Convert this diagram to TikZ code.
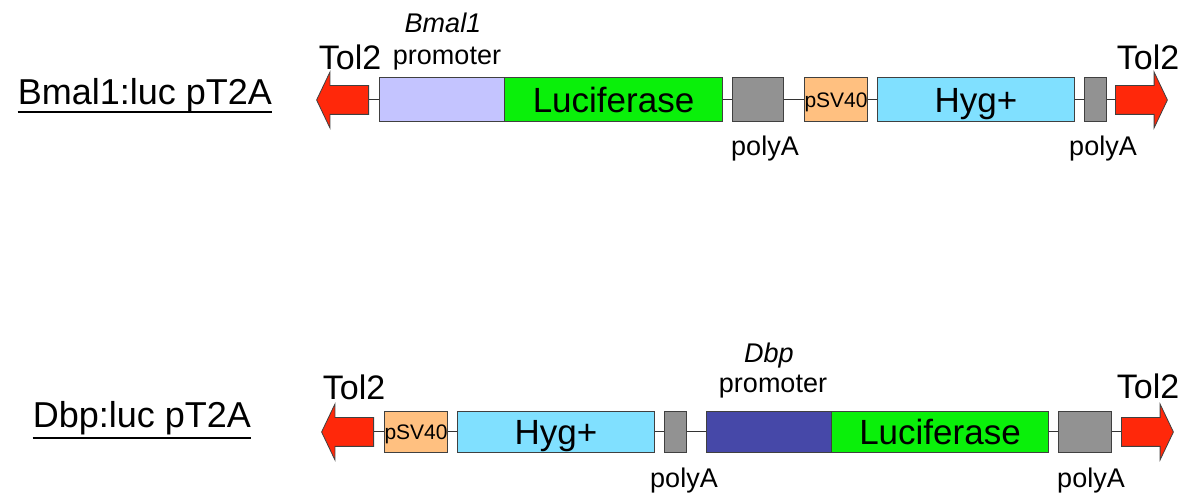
\documentclass[tikz,border=0pt]{standalone}
\usepackage{fontspec}
\setmainfont{Liberation Sans}
\usetikzlibrary{shapes.arrows}

\definecolor{tolred}{RGB}{255,40,10}
\definecolor{bmalprom}{RGB}{196,196,255}
\definecolor{dbpprom}{RGB}{70,72,168}
\definecolor{lucgreen}{RGB}{10,240,10}
\definecolor{polygray}{RGB}{146,146,146}
\definecolor{svorange}{RGB}{255,192,128}
\definecolor{hygcyan}{RGB}{128,224,255}

\tikzset{
  part/.style={draw=black!75, line width=1pt, anchor=west, inner sep=0pt},
  bigtext/.style={font=\fontsize{35}{40}\selectfont, text height=26pt, text depth=0pt},
  smalltext/.style={font=\fontsize{21}{24}\selectfont, text height=16pt, text depth=0pt},
  tolarrow/.style={single arrow, draw=black!75, fill=tolred, line width=0.8pt,
    inner xsep=0pt, inner ysep=14pt, minimum height=52pt,
    single arrow head extend=13.5pt, single arrow tip angle=129, anchor=tail},
  link/.style={draw=black!80, line width=1pt},
  lbl/.style={anchor=base, inner sep=0pt, font=\fontsize{27}{30}\selectfont},
  tollbl/.style={anchor=base, inner sep=0pt, font=\fontsize{34}{38}\selectfont},
  ttl/.style={anchor=base, inner sep=0pt, font=\fontsize{36}{40}\selectfont},
  uline/.style={line width=2pt},
}

\begin{document}
\begin{tikzpicture}[x=1pt,y=-1pt]
\useasboundingbox (0,0) rectangle (1200,502);
% 标题
\node[ttl] (ttl1) at (145,105) {Bmal1:luc pT2A};
\node[ttl] (ttl2) at (142,428) {Dbp:luc pT2A};
\draw[uline] ([yshift=-7pt]ttl1.base west) -- ([yshift=-7pt]ttl1.base east);
\draw[uline] ([yshift=-10pt]ttl2.base west) -- ([yshift=-10pt]ttl2.base east);
% 上: Bmal1
\node[tolarrow, shape border rotate=180] (tolL1) at (369,100) {};
\node[part, fill=bmalprom, minimum width=125pt, minimum height=44pt] (prom1) at (379,100) {};
\node[part, fill=lucgreen, minimum width=218pt, minimum height=44pt, bigtext] (luc1) at (504,100) {Luciferase};
\node[part, fill=polygray, minimum width=51pt, minimum height=44pt] (pa1) at (732,100) {};
\node[part, fill=svorange, minimum width=63pt, minimum height=44pt, smalltext] (sv1) at (804,100) {pSV40};
\node[part, fill=hygcyan, minimum width=197pt, minimum height=44pt, bigtext] (hyg1) at (877,100) {Hyg+};
\node[part, fill=polygray, minimum width=22pt, minimum height=44pt] (pa2) at (1084,100) {};
\node[tolarrow] (tolR1) at (1115,100) {};
\draw[link] (tolL1) -- (prom1);
\draw[link] (luc1) -- (pa1);
\draw[link] (pa1) -- (sv1);
\draw[link] (sv1) -- (hyg1);
\draw[link] (hyg1) -- (pa2);
\draw[link] (pa2) -- (tolR1);
\node[tollbl] (tol1a) at (350,70) {Tol2};
\node[tollbl] (tol1b) at (1148,70) {Tol2};
\node[lbl] (gene1) at (443,33) {\itshape Bmal1};
\node[lbl] (promlbl1) at (447,65) {promoter};
\node[lbl] (palbl1) at (765,156) {polyA};
\node[lbl] (palbl2) at (1103,156) {polyA};
% 下: Dbp
\node[tolarrow, shape border rotate=180] (tolL2) at (374,432) {};
\node[part, fill=svorange, minimum width=63pt, minimum height=41pt, smalltext] (sv2) at (384,432) {pSV40};
\node[part, fill=hygcyan, minimum width=197pt, minimum height=41pt, bigtext] (hyg2) at (457,432) {Hyg+};
\node[part, fill=polygray, minimum width=22pt, minimum height=41pt] (pa3) at (664,432) {};
\node[part, fill=dbpprom, minimum width=125pt, minimum height=41pt] (prom2) at (706,432) {};
\node[part, fill=lucgreen, minimum width=217pt, minimum height=41pt, bigtext] (luc2) at (831,432) {Luciferase};
\node[part, fill=polygray, minimum width=53pt, minimum height=41pt] (pa4) at (1058,432) {};
\node[tolarrow] (tolR2) at (1121,432) {};
\draw[link] (tolL2) -- (sv2);
\draw[link] (sv2) -- (hyg2);
\draw[link] (hyg2) -- (pa3);
\draw[link] (pa3) -- (prom2);
\draw[link] (luc2) -- (pa4);
\draw[link] (pa4) -- (tolR2);
\node[tollbl] (tol2a) at (354,400) {Tol2};
\node[tollbl] (tol2b) at (1148,399) {Tol2};
\node[lbl] (gene2) at (769,363) {\itshape Dbp};
\node[lbl] (promlbl2) at (773,393) {promoter};
\node[lbl] (palbl3) at (684,487) {polyA};
\node[lbl] (palbl4) at (1091,487) {polyA};
\end{tikzpicture}
\end{document}
